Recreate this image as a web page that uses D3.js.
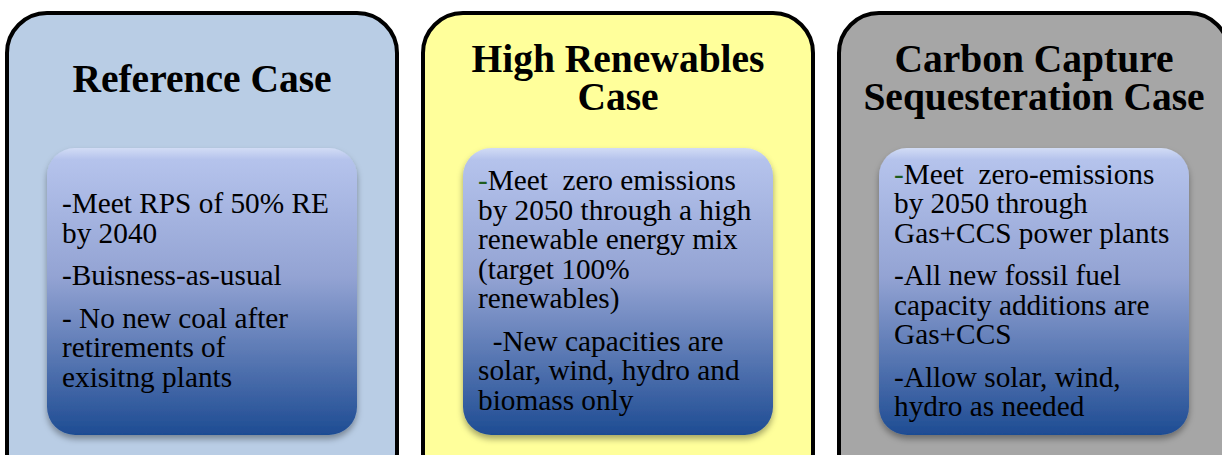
<!DOCTYPE html>
<html>
<head>
<meta charset="utf-8">
<script src="https://cdn.jsdelivr.net/npm/d3@7"></script>
<style>
  body { margin: 0; background: #fff; }
  svg { display: block; }
</style>
</head>
<body>
<div id="chart"></div>
<script>
// scenario panels
const caseNames = ["reference", "highRE", "ccs"];
const caseTitles = [
    ["Reference Case"],
    ["High Renewables", "Case"],
    ["Carbon Capture", "Sequesteration Case"]
];
const caseFills = ["#b9cde5", "#ffff9b", "#a6a6a6"];
// each case: list of paragraphs, each paragraph a list of lines
const caseNotes = [
    [["-Meet RPS of 50% RE", "by 2040"],
     ["-Buisness-as-usual"],
     ["- No new coal after", "retirements of", "exisitng plants"]],
    [["-Meet  zero emissions", "by 2050 through a high", "renewable energy mix", "(target 100%", "renewables)"],
     ["  -New capacities are", "solar, wind, hydro and", "biomass only"]],
    [["-Meet  zero-emissions", "by 2050 through", "Gas+CCS power plants"],
     ["-All new fossil fuel", "capacity additions are", "Gas+CCS"],
     ["-Allow solar, wind,", "hydro as needed"]]
];

const width = 1222, height = 455;
const panelW = 390, innerW = 310, innerH = 287;
const lineH = 29.5, paraGap = 13;

const svg = d3.select("#chart").append("svg")
    .attr("width", width)
    .attr("height", height);

const defs = svg.append("defs");

const grad = defs.append("linearGradient")
    .attr("id", "inner-grad")
    .attr("x1", 0).attr("y1", 0).attr("x2", 0).attr("y2", 1);
grad.append("stop").attr("offset", "0%").attr("stop-color", "#d2dcf5");
grad.append("stop").attr("offset", "4%").attr("stop-color", "#b5c3ec");
grad.append("stop").attr("offset", "45%").attr("stop-color", "#93a3d3");
grad.append("stop").attr("offset", "100%").attr("stop-color", "#1e4c93");

const shadow = defs.append("filter")
    .attr("id", "drop")
    .attr("x", "-10%").attr("y", "-10%")
    .attr("width", "120%").attr("height", "125%");
shadow.append("feDropShadow")
    .attr("dx", 0).attr("dy", 4)
    .attr("stdDeviation", 3)
    .attr("flood-color", "#000")
    .attr("flood-opacity", 0.35);

// panel positions
const x = d3.scaleBand()
    .domain(caseNames)
    .range([7, 7 + 3 * panelW + 2 * 26])
    .paddingInner(26 / (panelW + 26));

const panels = svg.selectAll("g.case")
    .data(caseNames)
    .join("g")
    .attr("class", "case")
    .attr("transform", d => `translate(${x(d)},0)`);

panels.append("rect")
    .attr("x", 0)
    .attr("y", 13)
    .attr("width", x.bandwidth())
    .attr("height", 480)
    .attr("rx", 40)
    .attr("fill", (d, i) => caseFills[i])
    .attr("stroke", "#000")
    .attr("stroke-width", 4);

// titles
panels.each(function (d, i) {
    const g = d3.select(this);
    const lines = caseTitles[i];
    const base = lines.length === 1 ? 92 : 72;
    g.append("text")
        .attr("class", "title")
        .attr("text-anchor", "middle")
        .attr("font-family", "'Liberation Serif', serif")
        .attr("font-weight", "bold")
        .attr("font-size", 39.5)
        .attr("fill", "#000")
        .selectAll("tspan")
        .data(lines)
        .join("tspan")
        .attr("x", x.bandwidth() / 2)
        .attr("y", (t, j) => base + j * 38)
        .text(t => t);
});

// inner gradient boxes
panels.append("rect")
    .attr("x", 40)
    .attr("y", 148)
    .attr("width", innerW)
    .attr("height", innerH)
    .attr("rx", 28)
    .attr("fill", "url(#inner-grad)")
    .attr("filter", "url(#drop)");

// body text
panels.each(function (d, i) {
    const g = d3.select(this);
    const paras = caseNotes[i];
    const rows = [];
    let yPos = 0;
    paras.forEach((p, pi) => {
        if (pi > 0) yPos += paraGap;
        p.forEach((line, li) => {
            if (pi > 0 || li > 0) yPos += lineH;
            rows.push({text: line, y: yPos, lead: li === 0});
        });
    });
    const offset = 300 - yPos / 2;

    const t = g.append("text")
        .attr("class", "note")
        .attr("font-family", "'Liberation Serif', serif")
        .attr("font-size", 29.3)
        .attr("fill", "#000")
        .attr("xml:space", "preserve")
        .style("white-space", "pre");

    rows.forEach(r => {
        const span = t.append("tspan")
            .attr("x", 55)
            .attr("y", offset + r.y);
        // first dash in the zero-emission cases is dark green
        if (i > 0 && r.lead && r.text.startsWith("-Meet")) {
            span.append("tspan").attr("fill", "#1e5c1e").text("-");
            span.append("tspan").text(r.text.slice(1));
        } else {
            span.text(r.text);
        }
    });
});
</script>
</body>
</html>
